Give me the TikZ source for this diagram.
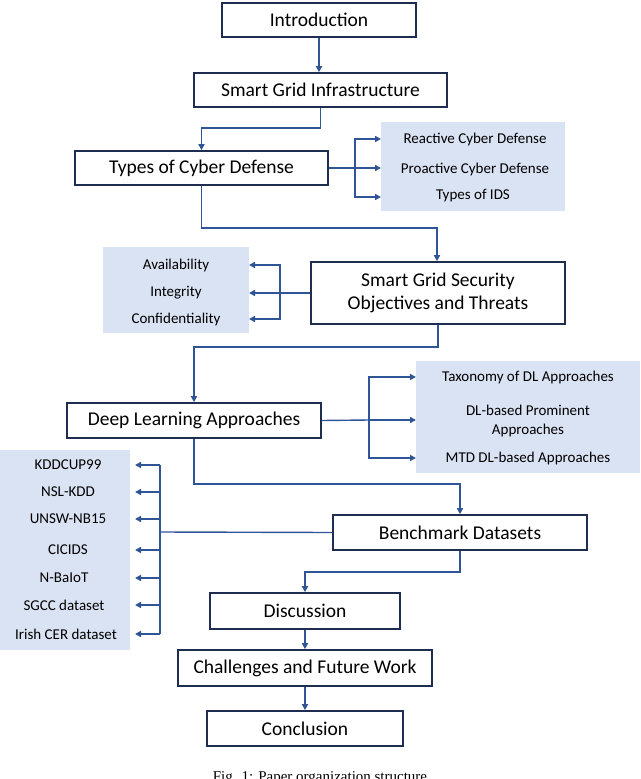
\documentclass[tikz,border=0pt]{standalone}
\usepackage{fontspec}
\setmainfont{Carlito}
\newfontfamily\capfont{Liberation Serif}
\usetikzlibrary{arrows.meta}
\definecolor{ln}{HTML}{2F5597}
\definecolor{sh}{HTML}{DAE3F3}
\definecolor{bd}{HTML}{1F2D50}
\begin{document}
\begin{tikzpicture}[x=1pt,y=-1pt,
  box/.style={draw=bd,line width=1.6pt,fill=white,inner sep=0pt,font=\fontsize{19.5}{23}\selectfont,align=center},
  shade/.style={fill=sh,inner sep=0pt},
  it/.style={font=\fontsize{15}{19}\selectfont,align=center,inner sep=0pt},
  ar/.style={draw=ln,line width=1.4pt,-{Triangle[length=6pt,width=6pt]}},
  li/.style={draw=ln,line width=1.4pt}]
\useasboundingbox (0,0) rectangle (640,779);
\clip (0,0) rectangle (640,779);
% shaded panels
\node[shade,minimum width=184pt,minimum height=89pt] (s1) at (473,166.5) {};
\node[shade,minimum width=146pt,minimum height=86pt] (s2) at (176,290) {};
\node[shade,minimum width=224pt,minimum height=112pt] (s3) at (528,417) {};
\node[shade,minimum width=130pt,minimum height=200pt] (s4) at (65,550) {};
% boxes
\node[box,minimum width=194pt,minimum height=34pt] (intro) at (319,20) {Introduction};
\node[box,minimum width=253pt,minimum height=34pt] (sgi) at (320.5,90) {Smart Grid Infrastructure};
\node[box,minimum width=253pt,minimum height=34pt] (tcd) at (201.5,168) {Types of Cyber Defense};
\node[box,minimum width=254pt,minimum height=62pt] (sgs) at (438,293) {Smart Grid Security\\Objectives and Threats};
\node[box,minimum width=254pt,minimum height=35pt] (dla) at (194,420.5) {Deep Learning Approaches};
\node[box,minimum width=254pt,minimum height=35pt] (bd) at (460,532.5) {Benchmark Datasets};
\node[box,minimum width=190pt,minimum height=36pt] (dis) at (305,611) {Discussion};
\node[box,minimum width=254pt,minimum height=36pt] (cfw) at (305,668) {Challenges and Future Work};
\node[box,minimum width=196pt,minimum height=35pt] (con) at (305,728.5) {Conclusion};
% items
\node[it] (a1) at (475,139) {Reactive Cyber Defense};
\node[it] (a2) at (475,169) {Proactive Cyber Defense};
\node[it] (a3) at (473,196) {Types of IDS};
\node[it] (b1) at (176,265) {Availability};
\node[it] (b2) at (176,293) {Integrity};
\node[it] (b3) at (176,319) {Confidentiality};
\node[it] (c1) at (528,377) {Taxonomy of DL Approaches};
\node[it] (c2) at (528,421) {DL-based Prominent\\Approaches};
\node[it] (c3) at (528,458) {MTD DL-based Approaches};
\node[it] (d1) at (68,465) {KDDCUP99};
\node[it] (d2) at (68,492) {NSL-KDD};
\node[it] (d3) at (68,519) {UNSW-NB15};
\node[it] (d4) at (68,550) {CICIDS};
\node[it] (d5) at (64,578) {N-BaIoT};
\node[it] (d6) at (64,605) {SGCC dataset};
\node[it] (d7) at (66,634) {Irish CER dataset};
\node[font=\capfont\fontsize{15}{18}\selectfont,anchor=base] (cap) at (320,781) {Fig. 1: Paper organization structure};
% coordinates
\coordinate (ja) at (355,168);
\coordinate (jb) at (280,293);
\coordinate (jc) at (369,420);
\coordinate (jd) at (160,532);
% connectors
\draw[ar] (intro.south) -- (intro.south|-sgi.north);
\draw[ar] (sgi.south) -- ++(0,20) -| (tcd.north);
\draw[ar] (tcd.south) |- (437,228) -- (sgs.north-|437,0);
\draw[ar] (sgs.south) |- (194,347) -- (dla.north);
\draw[ar] (dla.south) |- (460,484) -- (bd.north);
\draw[ar] (bd.south) |- (305,572) -- (dis.north);
\draw[ar] (dis.south) -- (cfw.north);
\draw[ar] (cfw.south) -- (con.north);
% branches
\draw[li] (tcd.east) -- (ja);
\draw[ar] (ja) |- (381,139);
\draw[ar] (ja) -- (381,168);
\draw[ar] (ja) |- (381,197);
\draw[li] (sgs.west) -- (jb);
\draw[ar] (jb) |- (249,265);
\draw[ar] (jb) -- (249,293);
\draw[ar] (jb) |- (249,319);
\draw[li] (dla.east) -- (jc);
\draw[ar] (jc) |- (416,377);
\draw[ar] (jc) -- (416,420);
\draw[ar] (jc) |- (416,458);
\draw[li] (bd.west) -- (jd);
\draw[li] (160,465) -- (160,634);
\foreach \y in {465,492,519,550,578,605,634} \draw[ar] (160,\y) -- (135,\y);
\end{tikzpicture}
\end{document}
